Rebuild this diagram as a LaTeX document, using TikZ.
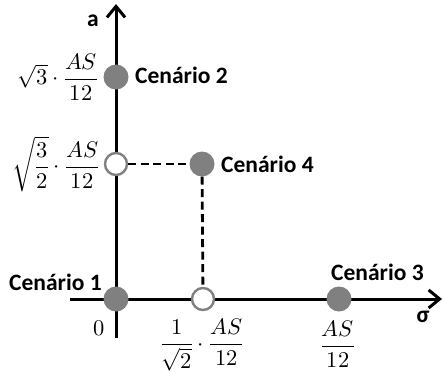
\documentclass[tikz,border=0pt]{standalone}
\usepackage{amsmath}
\usepackage{fontspec}
\usepackage{unicode-math}
\setmathfont{Latin Modern Math}
\newfontfamily\lblfont{Carlito}
\usetikzlibrary{arrows.meta}
\definecolor{dotgray}{RGB}{128,128,128}
\begin{document}
\begin{tikzpicture}[x=1pt,y=-1pt,
  axis/.style={line width=3pt, -{Straight Barb[length=11pt,width=18pt]}},
  guide/.style={line width=2.8pt, dash pattern=on 8pt off 4.5pt},
  fulldot/.style={circle, fill=dotgray, minimum size=25pt, inner sep=0pt},
  opendot/.style={circle, fill=white, draw=dotgray, line width=2.4pt, minimum size=22pt, inner sep=0pt},
  lbl/.style={font=\lblfont\bfseries\fontsize{23.5}{28}\selectfont, inner sep=0pt},
  val/.style={font=\fontsize{22.5}{27}\selectfont, inner sep=0pt}]
\useasboundingbox (0,0) rectangle (443,372);
% axes
\coordinate (ybot) at (116,338);
\coordinate (ytop) at (116,4);
\coordinate (xl) at (70,299);
\coordinate (xr) at (442,299);
\draw[axis] (ybot) -- (ytop);
\draw[axis] (xl) -- (xr);
\node[lbl] (alab) at (93,20.5) {a};
\node[lbl] (slab) at (423,317) {σ};
% points
\node[fulldot] (s1) at (116,299) {};
\node[fulldot] (s2) at (116,77) {};
\node[opendot] (p4a) at (116,164) {};
\node[fulldot] (s4) at (202,164) {};
\node[opendot] (p4s) at (203,299) {};
\node[fulldot] (s3) at (339,299) {};
\draw[guide] (p4a) -- (s4);
\draw[guide] (s4) -- (p4s);
% scenario labels
\node[lbl, anchor=base west] (c1) at (9,290) {Cenário 1};
\node[lbl, anchor=base west] (c2) at (135,83) {Cenário 2};
\node[lbl, anchor=base west] (c3) at (331,280) {Cenário 3};
\node[lbl, anchor=base west] (c4) at (221,172) {Cenário 4};
% values
\node[val] (v2) at (58,77) {$\sqrt{3}\cdot\dfrac{AS}{12}$};
\node[val] (v4) at (56,164) {$\sqrt{\dfrac{3}{2}}\cdot\dfrac{AS}{12}$};
\node[val] (v0) at (99,328) {$0$};
\node[val] (v5) at (202,345) {$\dfrac{1}{\sqrt{2}}\cdot\dfrac{AS}{12}$};
\node[val] (v3) at (338,344) {$\dfrac{AS}{12}$};
\end{tikzpicture}
\end{document}
